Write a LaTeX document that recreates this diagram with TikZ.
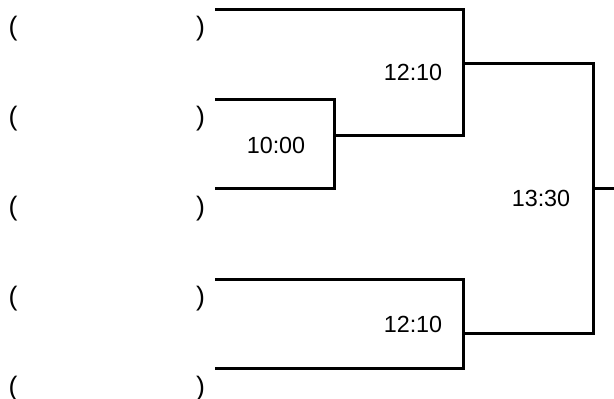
\documentclass[tikz,border=0pt]{standalone}
\usepackage{fontspec}
\setmainfont{Liberation Sans}
\begin{document}
\begin{tikzpicture}[x=0.75pt,y=-0.75pt,
  wire/.style={line width=2.25pt, line join=miter},
  lbl/.style={font=\fontsize{17.5}{20}\selectfont, inner sep=0pt},
  par/.style={font=\fontsize{20}{23}\selectfont, inner sep=0pt}]
\useasboundingbox (0,0) rectangle (614,399);
% coordinates
\coordinate (t1) at (215,10);   \coordinate (t1r) at (463,10);
\coordinate (t2) at (215,100);  \coordinate (t2r) at (334,100);
\coordinate (t3) at (215,189);  \coordinate (t3r) at (334,189);
\coordinate (m1) at (334,136);  \coordinate (m1r) at (463,136);
\coordinate (j1) at (463,64);   \coordinate (j1r) at (593,64);
\coordinate (t4) at (215,279);  \coordinate (t4r) at (463,279);
\coordinate (t5) at (215,368);  \coordinate (t5r) at (463,368);
\coordinate (j2) at (463,333);  \coordinate (j2r) at (593,333);
\coordinate (f) at (593,189);   \coordinate (fr) at (614,189);
% brackets
\draw[wire] (t1) -- (t1r) -- (m1r) -- (m1);
\draw[wire] (t2) -- (t2r) -- (t3r) -- (t3);
\draw[wire] (j1) -- (j1r) -- (j2r) -- (j2);
\draw[wire] (t4) -- (t4r) -- (t5r) -- (t5);
\draw[wire] (f) -- (fr);
% labels
\node[lbl] (l1) at (413,72.5) {12:10};
\node[lbl] (l2) at (276,145) {10:00};
\node[lbl] (l3) at (541,198) {13:30};
\node[lbl] (l4) at (413,324) {12:10};
% parentheses
\foreach \i/\yy in {1/28.5,2/118.5,3/208.5,4/298.5,5/388.5}{
  \node[par] (o\i) at (13,\yy) {(};
  \node[par] (c\i) at (200.5,\yy) {)};
}
\end{tikzpicture}
\end{document}
